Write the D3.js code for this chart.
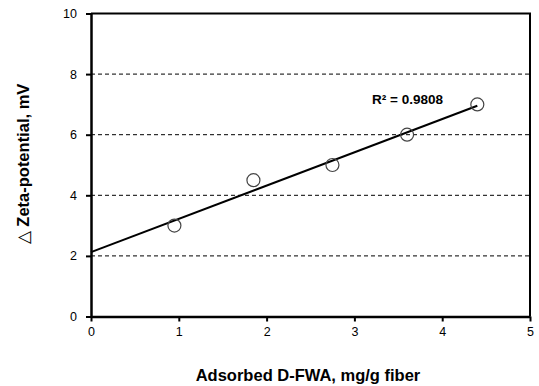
<!DOCTYPE html>
<html>
<head>
<meta charset="utf-8">
<script src="https://cdn.jsdelivr.net/npm/d3@7"></script>
<style>
  body { margin: 0; background: #fff; }
  svg { font-family: "Liberation Sans", Arial, sans-serif; }
</style>
</head>
<body>
<svg id="chart" width="539" height="386"></svg>
<script>
// data
const adsorbed = [0.95, 1.85, 2.75, 3.6, 4.4]
const zeta = [3, 4.5, 5, 6, 7]
const xTicks = [0, 1, 2, 3, 4, 5]
const yTicks = [0, 2, 4, 6, 8, 10]
const gridValues = [2, 4, 6, 8]
const r2Label = "R\u00b2 = 0.9808"

const svg = d3.select("#chart")

const x = d3.scaleLinear().domain([0, 5]).range([91, 530])
const y = d3.scaleLinear().domain([0, 10]).range([316.5, 13.5])

// dashed grid
svg.append("g")
    .selectAll("line")
    .data(gridValues)
    .join("line")
    .attr("x1", x(0))
    .attr("x2", x(5))
    .attr("y1", d => y(d))
    .attr("y2", d => y(d))
    .attr("stroke", "#000")
    .attr("stroke-width", 1)
    .attr("stroke-dasharray", "4,3")

// top + right frame
svg.append("path")
    .attr("d", `M${x(0)},${y(10)}H${x(5)}V${y(0)}`)
    .attr("fill", "none")
    .attr("stroke", "#000")
    .attr("stroke-width", 2)

// axes
const xAxis = svg.append("g")
    .attr("transform", `translate(0,${y(0)})`)
    .call(d3.axisBottom(x).tickValues(xTicks).tickFormat(d3.format("d")).tickSizeInner(5).tickSizeOuter(0).tickPadding(6))
const yAxis = svg.append("g")
    .attr("transform", `translate(${x(0)},0)`)
    .call(d3.axisLeft(y).tickValues(yTicks).tickFormat(d3.format("d")).tickSizeInner(5).tickSizeOuter(0).tickPadding(9))

for (const g of [xAxis, yAxis]) {
    g.select(".domain").attr("stroke-width", 2.5)
    g.selectAll(".tick line").attr("stroke-width", 2)
    g.selectAll(".tick text")
        .attr("font-size", 12.5)
        .attr("font-family", "Liberation Sans, Arial, sans-serif")
        .attr("fill", "#000")
}

// linear fit (least squares)
const mx = d3.mean(adsorbed), my = d3.mean(zeta)
const slope = d3.sum(adsorbed, (v, i) => (v - mx) * (zeta[i] - my)) / d3.sum(adsorbed, v => (v - mx) ** 2)
const intercept = my - slope * mx
const fitX = [0, d3.max(adsorbed)]

svg.append("path")
    .datum(fitX)
    .attr("fill", "none")
    .attr("stroke", "#000")
    .attr("stroke-width", 2)
    .attr("d", d3.line()
        .x(d => x(d))
        .y(d => y(intercept + slope * d)))

// points
svg.append("g")
    .selectAll("circle")
    .data(adsorbed)
    .join("circle")
    .attr("cx", d => x(d))
    .attr("cy", (d, i) => y(zeta[i]))
    .attr("r", 6.5)
    .attr("fill", "none")
    .attr("stroke", "#444")
    .attr("stroke-width", 1.2)

svg.append("text")
    .attr("x", 372)
    .attr("y", 104)
    .attr("font-size", 13.5)
    .attr("font-weight", "bold")
    .text(r2Label)

// axis titles
svg.append("text")
    .attr("x", 308)
    .attr("y", 381)
    .attr("text-anchor", "middle")
    .attr("font-size", 16.5)
    .attr("font-weight", "bold")
    .text("Adsorbed D-FWA, mg/g fiber")

const yt = svg.append("text")
    .attr("transform", `translate(29,164) rotate(-90)`)
    .attr("text-anchor", "middle")
    .attr("font-size", 16.5)
    .attr("font-weight", "bold")
yt.append("tspan").attr("font-weight", "normal").text("\u25b3 ")
yt.append("tspan").text("Zeta-potential, mV")
</script>
</body>
</html>
